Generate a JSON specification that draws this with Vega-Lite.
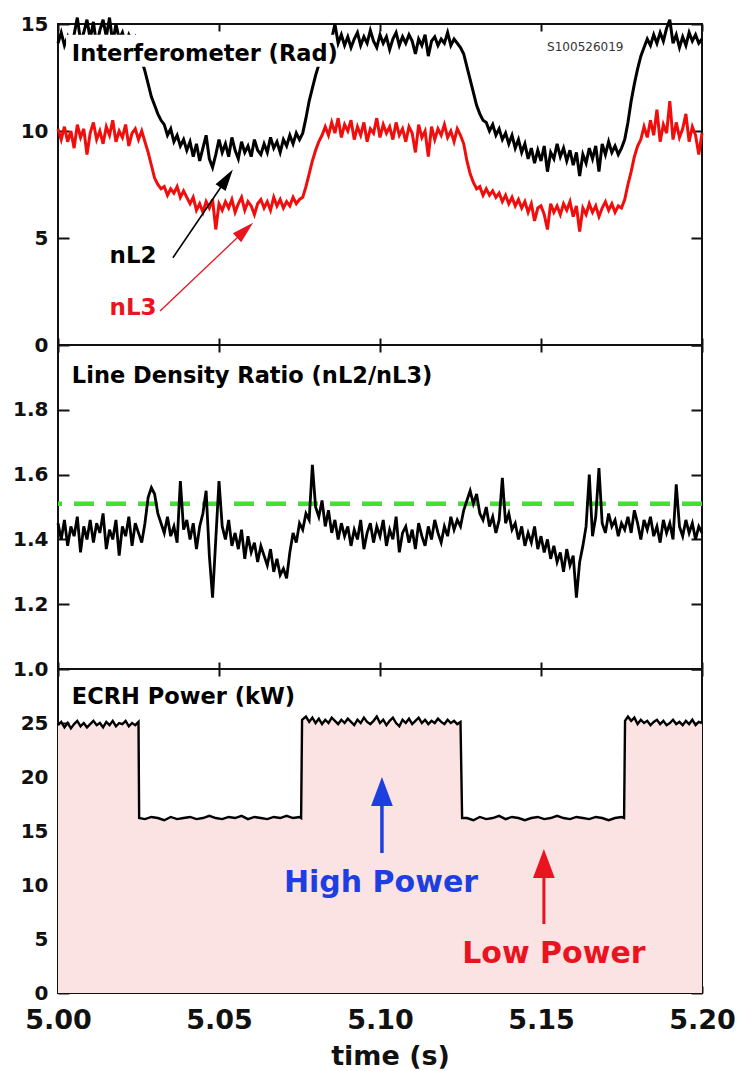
{
  "$schema": "https://vega.github.io/schema/vega-lite/v6.json",
  "background": "white",
  "padding": {"left": 11, "top": 10, "right": 10, "bottom": 0},
  "spacing": 0,
  "bounds": "flush",
  "datasets": {
    "interf": [
      {"t":5.000,"a":14.1,"b":10.1,"r":1.45},{"t":5.001,"a":14.6,"b":9.6,"r":1.40},{"t":5.002,"a":14.0,"b":10.2,"r":1.46},{"t":5.003,"a":14.4,"b":9.5,"r":1.38},{"t":5.004,"a":13.9,"b":10.0,"r":1.44},
      {"t":5.005,"a":14.5,"b":9.2,"r":1.41},{"t":5.006,"a":15.3,"b":10.3,"r":1.47},{"t":5.007,"a":14.2,"b":9.7,"r":1.36},{"t":5.008,"a":14.6,"b":10.1,"r":1.44},{"t":5.009,"a":15.2,"b":8.9,"r":1.40},
      {"t":5.010,"a":14.3,"b":9.9,"r":1.46},{"t":5.011,"a":15.1,"b":10.4,"r":1.39},{"t":5.012,"a":14.0,"b":9.6,"r":1.45},{"t":5.013,"a":14.7,"b":10.0,"r":1.42},{"t":5.014,"a":15.2,"b":9.4,"r":1.48},
      {"t":5.015,"a":14.4,"b":10.2,"r":1.37},{"t":5.016,"a":15.3,"b":9.8,"r":1.43},{"t":5.017,"a":14.1,"b":10.5,"r":1.40},{"t":5.018,"a":15.0,"b":9.5,"r":1.46},{"t":5.019,"a":14.3,"b":10.0,"r":1.35},
      {"t":5.020,"a":14.6,"b":9.7,"r":1.44},{"t":5.021,"a":14.0,"b":10.3,"r":1.41},{"t":5.022,"a":14.5,"b":9.3,"r":1.47},{"t":5.023,"a":14.2,"b":9.9,"r":1.38},{"t":5.024,"a":14.4,"b":10.1,"r":1.45},
      {"t":5.025,"a":14.0,"b":9.6,"r":1.42},{"t":5.026,"a":13.3,"b":10.0,"r":1.39},{"t":5.027,"a":12.8,"b":9.5,"r":1.45},{"t":5.028,"a":12.2,"b":9.0,"r":1.53},{"t":5.029,"a":11.6,"b":8.4,"r":1.56},
      {"t":5.030,"a":11.2,"b":7.8,"r":1.54},{"t":5.031,"a":10.8,"b":7.5,"r":1.48},{"t":5.032,"a":10.5,"b":7.3,"r":1.45},{"t":5.033,"a":10.3,"b":7.4,"r":1.42},{"t":5.034,"a":9.8,"b":7.0,"r":1.47},
      {"t":5.035,"a":10.1,"b":7.3,"r":1.41},{"t":5.036,"a":9.5,"b":7.1,"r":1.44},{"t":5.037,"a":9.8,"b":7.4,"r":1.39},{"t":5.038,"a":9.3,"b":6.9,"r":1.58},{"t":5.039,"a":9.6,"b":7.2,"r":1.43},
      {"t":5.040,"a":9.1,"b":6.9,"r":1.46},{"t":5.041,"a":9.5,"b":6.6,"r":1.40},{"t":5.042,"a":8.8,"b":6.9,"r":1.45},{"t":5.043,"a":9.4,"b":6.3,"r":1.37},{"t":5.044,"a":8.6,"b":6.6,"r":1.44},
      {"t":5.045,"a":9.2,"b":6.2,"r":1.48},{"t":5.046,"a":9.8,"b":6.7,"r":1.55},{"t":5.047,"a":8.7,"b":6.4,"r":1.35},{"t":5.048,"a":8.3,"b":6.8,"r":1.22},{"t":5.049,"a":8.9,"b":5.4,"r":1.40},
      {"t":5.050,"a":9.6,"b":6.6,"r":1.58},{"t":5.051,"a":9.0,"b":6.3,"r":1.44},{"t":5.052,"a":9.4,"b":6.7,"r":1.40},{"t":5.053,"a":8.8,"b":6.4,"r":1.46},{"t":5.054,"a":9.7,"b":6.8,"r":1.38},
      {"t":5.055,"a":9.1,"b":6.2,"r":1.42},{"t":5.056,"a":8.7,"b":6.6,"r":1.37},{"t":5.057,"a":9.5,"b":6.9,"r":1.43},{"t":5.058,"a":9.0,"b":6.3,"r":1.34},{"t":5.059,"a":9.3,"b":6.7,"r":1.41},
      {"t":5.060,"a":8.8,"b":6.5,"r":1.36},{"t":5.061,"a":9.6,"b":6.1,"r":1.39},{"t":5.062,"a":9.1,"b":6.6,"r":1.33},{"t":5.063,"a":8.9,"b":6.8,"r":1.38},{"t":5.064,"a":9.4,"b":6.4,"r":1.35},
      {"t":5.065,"a":9.0,"b":6.7,"r":1.32},{"t":5.066,"a":9.7,"b":6.3,"r":1.37},{"t":5.067,"a":9.2,"b":6.9,"r":1.30},{"t":5.068,"a":9.5,"b":6.5,"r":1.34},{"t":5.069,"a":9.0,"b":6.8,"r":1.29},
      {"t":5.070,"a":9.6,"b":6.4,"r":1.31},{"t":5.071,"a":9.3,"b":6.7,"r":1.28},{"t":5.072,"a":9.8,"b":6.5,"r":1.36},{"t":5.073,"a":9.4,"b":6.9,"r":1.42},{"t":5.074,"a":9.9,"b":6.6,"r":1.39},
      {"t":5.075,"a":9.6,"b":6.8,"r":1.45},{"t":5.076,"a":9.9,"b":6.9,"r":1.43},{"t":5.077,"a":10.6,"b":7.4,"r":1.48},{"t":5.078,"a":11.4,"b":8.0,"r":1.46},{"t":5.079,"a":12.0,"b":8.6,"r":1.63},
      {"t":5.080,"a":12.6,"b":9.1,"r":1.50},{"t":5.081,"a":13.1,"b":9.5,"r":1.47},{"t":5.082,"a":13.5,"b":9.8,"r":1.52},{"t":5.083,"a":13.8,"b":10.2,"r":1.44},{"t":5.084,"a":14.1,"b":9.8,"r":1.49},
      {"t":5.085,"a":14.3,"b":10.4,"r":1.42},{"t":5.086,"a":15.0,"b":9.9,"r":1.46},{"t":5.087,"a":14.1,"b":10.6,"r":1.40},{"t":5.088,"a":14.5,"b":9.7,"r":1.45},{"t":5.089,"a":14.0,"b":10.3,"r":1.41},
      {"t":5.090,"a":14.4,"b":10.0,"r":1.44},{"t":5.091,"a":13.9,"b":10.5,"r":1.38},{"t":5.092,"a":14.3,"b":9.6,"r":1.43},{"t":5.093,"a":14.6,"b":10.2,"r":1.40},{"t":5.094,"a":14.0,"b":9.8,"r":1.46},
      {"t":5.095,"a":14.4,"b":10.4,"r":1.37},{"t":5.096,"a":14.1,"b":9.5,"r":1.42},{"t":5.097,"a":14.7,"b":10.1,"r":1.45},{"t":5.098,"a":14.2,"b":9.9,"r":1.39},{"t":5.099,"a":13.9,"b":10.6,"r":1.44},
      {"t":5.100,"a":14.5,"b":9.7,"r":1.41},{"t":5.101,"a":14.1,"b":10.3,"r":1.46},{"t":5.102,"a":14.4,"b":9.9,"r":1.38},{"t":5.103,"a":13.8,"b":10.2,"r":1.43},{"t":5.104,"a":14.3,"b":9.6,"r":1.40},
      {"t":5.105,"a":14.6,"b":10.4,"r":1.47},{"t":5.106,"a":14.0,"b":9.8,"r":1.36},{"t":5.107,"a":14.4,"b":10.1,"r":1.42},{"t":5.108,"a":14.1,"b":9.5,"r":1.44},{"t":5.109,"a":14.5,"b":10.2,"r":1.39},
      {"t":5.110,"a":14.2,"b":9.9,"r":1.43},{"t":5.111,"a":13.6,"b":9.0,"r":1.37},{"t":5.112,"a":14.3,"b":10.3,"r":1.45},{"t":5.113,"a":14.0,"b":9.7,"r":1.41},{"t":5.114,"a":14.5,"b":10.0,"r":1.38},
      {"t":5.115,"a":13.5,"b":8.8,"r":1.44},{"t":5.116,"a":14.2,"b":10.2,"r":1.40},{"t":5.117,"a":14.4,"b":9.6,"r":1.46},{"t":5.118,"a":14.0,"b":10.1,"r":1.42},{"t":5.119,"a":14.3,"b":9.8,"r":1.39},
      {"t":5.120,"a":14.1,"b":10.3,"r":1.44},{"t":5.121,"a":14.6,"b":9.7,"r":1.41},{"t":5.122,"a":14.0,"b":10.0,"r":1.47},{"t":5.123,"a":14.3,"b":9.5,"r":1.43},{"t":5.124,"a":14.1,"b":10.1,"r":1.46},
      {"t":5.125,"a":13.9,"b":9.8,"r":1.44},{"t":5.126,"a":13.6,"b":9.4,"r":1.49},{"t":5.127,"a":13.0,"b":8.6,"r":1.52},{"t":5.128,"a":12.4,"b":8.0,"r":1.55},{"t":5.129,"a":11.8,"b":7.6,"r":1.51},
      {"t":5.130,"a":11.2,"b":7.3,"r":1.54},{"t":5.131,"a":10.8,"b":7.4,"r":1.48},{"t":5.132,"a":10.5,"b":7.0,"r":1.46},{"t":5.133,"a":10.4,"b":7.3,"r":1.50},{"t":5.134,"a":10.0,"b":7.0,"r":1.44},
      {"t":5.135,"a":10.3,"b":7.2,"r":1.47},{"t":5.136,"a":9.8,"b":6.9,"r":1.42},{"t":5.137,"a":10.1,"b":7.1,"r":1.46},{"t":5.138,"a":9.6,"b":6.7,"r":1.59},{"t":5.139,"a":9.9,"b":7.0,"r":1.45},
      {"t":5.140,"a":9.4,"b":6.6,"r":1.48},{"t":5.141,"a":9.8,"b":6.9,"r":1.43},{"t":5.142,"a":9.2,"b":6.5,"r":1.45},{"t":5.143,"a":9.6,"b":6.8,"r":1.40},{"t":5.144,"a":9.0,"b":6.4,"r":1.44},
      {"t":5.145,"a":9.4,"b":6.7,"r":1.38},{"t":5.146,"a":8.7,"b":6.2,"r":1.42},{"t":5.147,"a":9.2,"b":6.6,"r":1.39},{"t":5.148,"a":8.5,"b":5.8,"r":1.44},{"t":5.149,"a":9.1,"b":6.4,"r":1.37},
      {"t":5.150,"a":8.6,"b":6.5,"r":1.41},{"t":5.151,"a":9.3,"b":6.1,"r":1.36},{"t":5.152,"a":8.1,"b":5.4,"r":1.40},{"t":5.153,"a":9.0,"b":6.6,"r":1.34},{"t":5.154,"a":8.7,"b":6.2,"r":1.38},
      {"t":5.155,"a":9.4,"b":6.5,"r":1.33},{"t":5.156,"a":8.8,"b":6.1,"r":1.36},{"t":5.157,"a":9.2,"b":6.6,"r":1.30},{"t":5.158,"a":8.6,"b":6.3,"r":1.37},{"t":5.159,"a":9.1,"b":6.7,"r":1.32},
      {"t":5.160,"a":8.4,"b":6.0,"r":1.35},{"t":5.161,"a":9.0,"b":6.5,"r":1.22},{"t":5.162,"a":7.9,"b":5.3,"r":1.33},{"t":5.163,"a":8.9,"b":6.4,"r":1.38},{"t":5.164,"a":8.5,"b":6.1,"r":1.44},
      {"t":5.165,"a":9.2,"b":6.6,"r":1.60},{"t":5.166,"a":8.7,"b":6.2,"r":1.41},{"t":5.167,"a":9.3,"b":6.5,"r":1.47},{"t":5.168,"a":8.1,"b":6.0,"r":1.62},{"t":5.169,"a":9.4,"b":6.4,"r":1.45},
      {"t":5.170,"a":8.9,"b":6.7,"r":1.42},{"t":5.171,"a":9.5,"b":6.3,"r":1.48},{"t":5.172,"a":9.0,"b":6.6,"r":1.44},{"t":5.173,"a":9.3,"b":6.2,"r":1.46},{"t":5.174,"a":8.9,"b":6.5,"r":1.41},
      {"t":5.175,"a":9.2,"b":6.4,"r":1.45},{"t":5.176,"a":9.6,"b":6.8,"r":1.43},{"t":5.177,"a":10.4,"b":7.5,"r":1.47},{"t":5.178,"a":11.4,"b":8.1,"r":1.42},{"t":5.179,"a":12.2,"b":8.8,"r":1.49},
      {"t":5.180,"a":12.9,"b":9.3,"r":1.45},{"t":5.181,"a":13.5,"b":9.6,"r":1.40},{"t":5.182,"a":13.9,"b":10.2,"r":1.46},{"t":5.183,"a":14.3,"b":9.7,"r":1.43},{"t":5.184,"a":14.0,"b":10.5,"r":1.47},
      {"t":5.185,"a":14.5,"b":9.8,"r":1.41},{"t":5.186,"a":14.1,"b":11.0,"r":1.44},{"t":5.187,"a":14.6,"b":9.5,"r":1.39},{"t":5.188,"a":14.2,"b":10.3,"r":1.46},{"t":5.189,"a":14.8,"b":9.9,"r":1.42},
      {"t":5.190,"a":15.2,"b":11.4,"r":1.45},{"t":5.191,"a":14.1,"b":9.6,"r":1.40},{"t":5.192,"a":14.5,"b":10.4,"r":1.57},{"t":5.193,"a":13.9,"b":9.7,"r":1.44},{"t":5.194,"a":14.4,"b":10.1,"r":1.41},
      {"t":5.195,"a":14.0,"b":10.8,"r":1.46},{"t":5.196,"a":14.6,"b":9.5,"r":1.42},{"t":5.197,"a":14.2,"b":10.2,"r":1.45},{"t":5.198,"a":14.5,"b":9.8,"r":1.40},{"t":5.199,"a":14.1,"b":8.9,"r":1.44},
      {"t":5.200,"a":14.3,"b":9.9,"r":1.42}
    ],
    "power": [
      {"t":5.000,"p":24.8},{"t":5.001,"p":25.1},{"t":5.002,"p":24.6},{"t":5.003,"p":25.0},{"t":5.004,"p":24.5},{"t":5.005,"p":24.9},{"t":5.006,"p":25.2},{"t":5.007,"p":24.7},{"t":5.008,"p":25.0},{"t":5.009,"p":24.6},
      {"t":5.010,"p":24.9},{"t":5.011,"p":25.2},{"t":5.012,"p":24.8},{"t":5.013,"p":25.0},{"t":5.014,"p":24.6},{"t":5.015,"p":25.1},{"t":5.016,"p":24.8},{"t":5.017,"p":25.2},{"t":5.018,"p":24.7},{"t":5.019,"p":25.0},
      {"t":5.020,"p":24.9},{"t":5.021,"p":25.2},{"t":5.022,"p":24.7},{"t":5.023,"p":25.0},{"t":5.024,"p":24.8},{"t":5.025,"p":25.1},{"t":5.0252,"p":16.2},
      {"t":5.027,"p":16.1},{"t":5.029,"p":16.3},{"t":5.031,"p":16.2},{"t":5.033,"p":16.0},{"t":5.035,"p":16.3},{"t":5.037,"p":16.1},{"t":5.039,"p":16.2},{"t":5.041,"p":16.3},{"t":5.043,"p":16.1},{"t":5.045,"p":16.2},
      {"t":5.047,"p":16.4},{"t":5.049,"p":16.2},{"t":5.051,"p":16.1},{"t":5.053,"p":16.3},{"t":5.055,"p":16.2},{"t":5.057,"p":16.4},{"t":5.059,"p":16.1},{"t":5.061,"p":16.3},{"t":5.063,"p":16.2},{"t":5.065,"p":16.1},
      {"t":5.067,"p":16.3},{"t":5.069,"p":16.2},{"t":5.071,"p":16.4},{"t":5.073,"p":16.2},{"t":5.075,"p":16.3},{"t":5.0755,"p":16.2},{"t":5.0758,"p":25.3},
      {"t":5.077,"p":25.6},{"t":5.078,"p":25.1},{"t":5.079,"p":25.5},{"t":5.080,"p":25.0},{"t":5.081,"p":25.4},{"t":5.082,"p":24.9},{"t":5.083,"p":25.3},{"t":5.084,"p":25.0},{"t":5.085,"p":25.5},{"t":5.086,"p":25.2},
      {"t":5.087,"p":24.9},{"t":5.088,"p":25.3},{"t":5.089,"p":25.0},{"t":5.090,"p":25.4},{"t":5.091,"p":25.1},{"t":5.092,"p":24.8},{"t":5.093,"p":25.3},{"t":5.094,"p":25.0},{"t":5.095,"p":25.5},{"t":5.096,"p":25.1},
      {"t":5.097,"p":24.9},{"t":5.098,"p":25.2},{"t":5.099,"p":25.6},{"t":5.100,"p":25.0},{"t":5.101,"p":25.3},{"t":5.102,"p":24.8},{"t":5.103,"p":25.2},{"t":5.104,"p":25.5},{"t":5.105,"p":25.0},{"t":5.106,"p":24.7},
      {"t":5.107,"p":25.3},{"t":5.108,"p":25.0},{"t":5.109,"p":25.4},{"t":5.110,"p":24.9},{"t":5.111,"p":25.2},{"t":5.112,"p":25.5},{"t":5.113,"p":25.0},{"t":5.114,"p":25.3},{"t":5.115,"p":24.9},{"t":5.116,"p":25.2},
      {"t":5.117,"p":25.0},{"t":5.118,"p":25.4},{"t":5.119,"p":25.1},{"t":5.120,"p":24.9},{"t":5.121,"p":25.3},{"t":5.122,"p":25.0},{"t":5.123,"p":25.2},{"t":5.124,"p":24.9},{"t":5.125,"p":25.1},{"t":5.1255,"p":16.2},
      {"t":5.127,"p":16.2},{"t":5.129,"p":16.0},{"t":5.131,"p":16.3},{"t":5.133,"p":16.1},{"t":5.135,"p":16.2},{"t":5.137,"p":16.4},{"t":5.139,"p":16.1},{"t":5.141,"p":16.3},{"t":5.143,"p":16.2},{"t":5.145,"p":16.0},
      {"t":5.147,"p":16.2},{"t":5.149,"p":16.3},{"t":5.151,"p":16.1},{"t":5.153,"p":16.2},{"t":5.155,"p":16.4},{"t":5.157,"p":16.2},{"t":5.159,"p":16.1},{"t":5.161,"p":16.3},{"t":5.163,"p":16.2},{"t":5.165,"p":16.1},
      {"t":5.167,"p":16.3},{"t":5.169,"p":16.2},{"t":5.171,"p":16.0},{"t":5.173,"p":16.2},{"t":5.175,"p":16.3},{"t":5.1758,"p":16.2},{"t":5.1761,"p":25.2},
      {"t":5.177,"p":25.6},{"t":5.178,"p":25.2},{"t":5.179,"p":25.5},{"t":5.180,"p":24.9},{"t":5.181,"p":25.3},{"t":5.182,"p":25.0},{"t":5.183,"p":25.2},{"t":5.184,"p":24.8},{"t":5.185,"p":25.1},{"t":5.186,"p":25.3},
      {"t":5.187,"p":24.9},{"t":5.188,"p":25.2},{"t":5.189,"p":24.8},{"t":5.190,"p":25.0},{"t":5.191,"p":25.3},{"t":5.192,"p":24.9},{"t":5.193,"p":25.1},{"t":5.194,"p":24.8},{"t":5.195,"p":25.2},{"t":5.196,"p":24.9},
      {"t":5.197,"p":25.3},{"t":5.198,"p":24.8},{"t":5.199,"p":25.1},{"t":5.200,"p":25.0}
    ]
  },
  "vconcat": [
    {
      "width": 644,
      "height": 321,
      "layer": [
        {
          "data": {"name": "interf"},
          "mark": {"type": "line", "color": "#f20d0d", "strokeWidth": 3},
          "encoding": {
            "x": {"field": "t", "type": "quantitative", "scale": {"domain": [5, 5.2]},
                  "axis": {"orient": "top", "values": [5, 5.05, 5.1, 5.15, 5.2], "labels": false, "tickSize": -7, "title": null}},
            "y": {"field": "b", "type": "quantitative", "scale": {"domain": [0, 15]},
                  "axis": {"orient": "right", "values": [0, 5, 10, 15], "labels": false, "tickSize": -11, "title": null}}
          }
        },
        {
          "data": {"name": "interf"},
          "mark": {"type": "line", "color": "black", "strokeWidth": 3},
          "encoding": {
            "x": {"field": "t", "type": "quantitative", "scale": {"domain": [5, 5.2]},
                  "axis": {"orient": "bottom", "values": [5, 5.05, 5.1, 5.15, 5.2], "labels": false, "tickSize": -7, "title": null}},
            "y": {"field": "a", "type": "quantitative", "scale": {"domain": [0, 15]},
                  "axis": {"orient": "left", "values": [0, 5, 10, 15], "tickSize": -11, "labelPadding": 21, "labelFontSize": 20, "title": null}}
          }
        },
        {
          "data": {"values": [{}]},
          "mark": {"type": "rect", "color": "white"},
          "encoding": {
            "x": {"datum": 5.0025, "type": "quantitative", "scale": {"domain": [5, 5.2]}, "axis": null},
            "x2": {"datum": 5.0857},
            "y": {"datum": 13.0, "type": "quantitative", "scale": {"domain": [0, 15]}, "axis": null},
            "y2": {"datum": 14.5}
          }
        },
        {
          "data": {"values": [{}]},
          "mark": {"type": "text", "text": "Interferometer (Rad)", "align": "left", "baseline": "middle", "fontSize": 22.5, "color": "black"},
          "encoding": {
            "x": {"datum": 5.0043, "type": "quantitative", "scale": {"domain": [5, 5.2]}, "axis": null},
            "y": {"datum": 13.6, "type": "quantitative", "scale": {"domain": [0, 15]}, "axis": null}
          }
        },
        {
          "data": {"values": [{}]},
          "mark": {"type": "text", "text": "S100526019", "align": "left", "baseline": "middle", "fontSize": 12, "fontWeight": "normal", "color": "#333333"},
          "encoding": {
            "x": {"datum": 5.1519, "type": "quantitative", "scale": {"domain": [5, 5.2]}, "axis": null},
            "y": {"datum": 13.92, "type": "quantitative", "scale": {"domain": [0, 15]}, "axis": null}
          }
        },
        {
          "data": {"values": [{}]},
          "mark": {"type": "text", "text": "nL2", "align": "center", "baseline": "middle", "fontSize": 23, "color": "black"},
          "encoding": {
            "x": {"datum": 5.0233, "type": "quantitative", "scale": {"domain": [5, 5.2]}, "axis": null},
            "y": {"datum": 4.17, "type": "quantitative", "scale": {"domain": [0, 15]}, "axis": null}
          }
        },
        {
          "data": {"values": [{}]},
          "mark": {"type": "text", "text": "nL3", "align": "center", "baseline": "middle", "fontSize": 23, "color": "#ea1420"},
          "encoding": {
            "x": {"datum": 5.0233, "type": "quantitative", "scale": {"domain": [5, 5.2]}, "axis": null},
            "y": {"datum": 1.73, "type": "quantitative", "scale": {"domain": [0, 15]}, "axis": null}
          }
        },
        {
          "data": {"values": [{}]},
          "mark": {"type": "rule", "color": "black", "strokeWidth": 1.6},
          "encoding": {
            "x": {"datum": 5.0357, "type": "quantitative", "scale": {"domain": [5, 5.2]}, "axis": null},
            "y": {"datum": 4.08, "type": "quantitative", "scale": {"domain": [0, 15]}, "axis": null},
            "x2": {"datum": 5.0524},
            "y2": {"datum": 7.78}
          }
        },
        {
          "data": {"values": [{}]},
          "mark": {"type": "point", "shape": "M0,-1L0.55,1L-0.55,1Z", "size": 484, "angle": 34, "filled": true, "opacity": 1, "color": "black"},
          "encoding": {
            "x": {"datum": 5.0524, "type": "quantitative", "scale": {"domain": [5, 5.2]}, "axis": null},
            "y": {"datum": 7.78, "type": "quantitative", "scale": {"domain": [0, 15]}, "axis": null}
          }
        },
        {
          "data": {"values": [{}]},
          "mark": {"type": "rule", "color": "#ea1420", "strokeWidth": 1.3},
          "encoding": {
            "x": {"datum": 5.0317, "type": "quantitative", "scale": {"domain": [5, 5.2]}, "axis": null},
            "y": {"datum": 1.59, "type": "quantitative", "scale": {"domain": [0, 15]}, "axis": null},
            "x2": {"datum": 5.0581},
            "y2": {"datum": 5.36}
          }
        },
        {
          "data": {"values": [{}]},
          "mark": {"type": "point", "shape": "M0,-1L0.55,1L-0.55,1Z", "size": 484, "angle": 47, "filled": true, "opacity": 1, "color": "#ea1420"},
          "encoding": {
            "x": {"datum": 5.0581, "type": "quantitative", "scale": {"domain": [5, 5.2]}, "axis": null},
            "y": {"datum": 5.36, "type": "quantitative", "scale": {"domain": [0, 15]}, "axis": null}
          }
        }
      ],
      "resolve": {"axis": {"x": "independent", "y": "independent"}}
    },
    {
      "width": 644,
      "height": 324,
      "layer": [
        {
          "data": {"values": [{}]},
          "mark": {"type": "rule", "color": "#44dd33", "strokeWidth": 4.5, "strokeDash": [20, 12]},
          "encoding": {
            "y": {"datum": 1.51, "type": "quantitative", "scale": {"domain": [1, 2]}, "axis": null}
          }
        },
        {
          "data": {"name": "interf"},
          "mark": {"type": "line", "color": "black", "strokeWidth": 2.8},
          "encoding": {
            "x": {"field": "t", "type": "quantitative", "scale": {"domain": [5, 5.2]},
                  "axis": {"orient": "bottom", "values": [5, 5.05, 5.1, 5.15, 5.2], "labels": false, "tickSize": -7, "title": null}},
            "y": {"field": "r", "type": "quantitative", "scale": {"domain": [1, 2]},
                  "axis": {"orient": "left", "values": [1, 1.2, 1.4, 1.6, 1.8], "format": ".1f", "tickSize": -11, "labelPadding": 21, "labelFontSize": 20, "title": null}}
          }
        },
        {
          "data": {"values": [{}]},
          "mark": {"type": "text", "text": "Line Density Ratio (nL2/nL3)", "align": "left", "baseline": "middle", "fontSize": 22.5, "color": "black"},
          "encoding": {
            "x": {"datum": 5.0043, "type": "quantitative", "scale": {"domain": [5, 5.2]},
                  "axis": {"orient": "top", "values": [5, 5.05, 5.1, 5.15, 5.2], "labels": false, "tickSize": -7, "title": null}},
            "y": {"datum": 1.904, "type": "quantitative", "scale": {"domain": [1, 2]},
                  "axis": {"orient": "right", "values": [1, 1.2, 1.4, 1.6, 1.8, 2], "labels": false, "tickSize": -11, "title": null}}
          }
        }
      ],
      "resolve": {"axis": {"x": "independent", "y": "independent"}}
    },
    {
      "width": 644,
      "height": 324,
      "layer": [
        {
          "data": {"name": "power"},
          "mark": {"type": "area", "color": "#fce3e3", "opacity": 1},
          "encoding": {
            "x": {"field": "t", "type": "quantitative", "scale": {"domain": [5, 5.2]},
                  "axis": {"orient": "bottom", "values": [5, 5.05, 5.1, 5.15, 5.2], "format": ".2f", "tickSize": -7, "labelPadding": 21, "labelFontSize": 27,
                           "title": "time (s)", "titleFontSize": 27, "titlePadding": 10, "titleX": 332}},
            "y": {"field": "p", "type": "quantitative", "scale": {"domain": [0, 30]},
                  "axis": {"orient": "left", "values": [0, 5, 10, 15, 20, 25], "tickSize": -11, "labelPadding": 21, "labelFontSize": 20, "title": null}}
          }
        },
        {
          "data": {"name": "power"},
          "mark": {"type": "line", "color": "black", "strokeWidth": 2.4},
          "encoding": {
            "x": {"field": "t", "type": "quantitative", "scale": {"domain": [5, 5.2]}, "axis": null},
            "y": {"field": "p", "type": "quantitative", "scale": {"domain": [0, 30]}, "axis": null}
          }
        },
        {
          "data": {"values": [{}]},
          "mark": {"type": "text", "text": "ECRH Power (kW)", "align": "left", "baseline": "middle", "fontSize": 22.5, "color": "black"},
          "encoding": {
            "x": {"datum": 5.0043, "type": "quantitative", "scale": {"domain": [5, 5.2]},
                  "axis": {"orient": "top", "values": [5, 5.05, 5.1, 5.15, 5.2], "labels": false, "tickSize": -7, "title": null}},
            "y": {"datum": 27.4, "type": "quantitative", "scale": {"domain": [0, 30]},
                  "axis": {"orient": "right", "values": [0, 5, 10, 15, 20, 25, 30], "labels": false, "tickSize": -11, "title": null}}
          }
        },
        {
          "data": {"values": [{}]},
          "mark": {"type": "text", "text": "High Power", "align": "center", "baseline": "middle", "fontSize": 30, "color": "#1d3fe0"},
          "encoding": {
            "x": {"datum": 5.1003, "type": "quantitative", "scale": {"domain": [5, 5.2]}, "axis": null},
            "y": {"datum": 10.2, "type": "quantitative", "scale": {"domain": [0, 30]}, "axis": null}
          }
        },
        {
          "data": {"values": [{}]},
          "mark": {"type": "rule", "color": "#1d3fe0", "strokeWidth": 3.5},
          "encoding": {
            "x": {"datum": 5.1006, "type": "quantitative", "scale": {"domain": [5, 5.2]}, "axis": null},
            "y": {"datum": 12.96, "type": "quantitative", "scale": {"domain": [0, 30]}, "axis": null},
            "y2": {"datum": 18.66}
          }
        },
        {
          "data": {"values": [{}]},
          "mark": {"type": "point", "shape": "M0,-1L0.75,1L-0.75,1Z", "size": 841, "filled": true, "opacity": 1, "color": "#1d3fe0"},
          "encoding": {
            "x": {"datum": 5.1006, "type": "quantitative", "scale": {"domain": [5, 5.2]}, "axis": null},
            "y": {"datum": 18.66, "type": "quantitative", "scale": {"domain": [0, 30]}, "axis": null}
          }
        },
        {
          "data": {"values": [{}]},
          "mark": {"type": "text", "text": "Low Power", "align": "center", "baseline": "middle", "fontSize": 30, "color": "#ea1420"},
          "encoding": {
            "x": {"datum": 5.154, "type": "quantitative", "scale": {"domain": [5, 5.2]}, "axis": null},
            "y": {"datum": 3.61, "type": "quantitative", "scale": {"domain": [0, 30]}, "axis": null}
          }
        },
        {
          "data": {"values": [{}]},
          "mark": {"type": "rule", "color": "#ea1420", "strokeWidth": 3},
          "encoding": {
            "x": {"datum": 5.1509, "type": "quantitative", "scale": {"domain": [5, 5.2]}, "axis": null},
            "y": {"datum": 6.39, "type": "quantitative", "scale": {"domain": [0, 30]}, "axis": null},
            "y2": {"datum": 11.99}
          }
        },
        {
          "data": {"values": [{}]},
          "mark": {"type": "point", "shape": "M0,-1L0.75,1L-0.75,1Z", "size": 841, "filled": true, "opacity": 1, "color": "#ea1420"},
          "encoding": {
            "x": {"datum": 5.1509, "type": "quantitative", "scale": {"domain": [5, 5.2]}, "axis": null},
            "y": {"datum": 11.99, "type": "quantitative", "scale": {"domain": [0, 30]}, "axis": null}
          }
        }
      ],
      "resolve": {"axis": {"x": "independent", "y": "independent"}}
    }
  ],
  "resolve": {"scale": {"x": "independent", "y": "independent"}},
  "config": {
    "view": {"stroke": "#111111", "strokeWidth": 2},
    "axis": {
      "grid": false,
      "domain": false,
      "zindex": 1,
      "tickColor": "#111111",
      "tickWidth": 2,
      "labelFont": "DejaVu Sans",
      "labelFontWeight": "bold",
      "labelColor": "#111111",
      "labelFlush": false,
      "labelOverlap": false,
      "titleFont": "DejaVu Sans",
      "titleFontWeight": "bold",
      "titleColor": "#111111"
    },
    "text": {"font": "DejaVu Sans", "fontWeight": "bold"}
  }
}
